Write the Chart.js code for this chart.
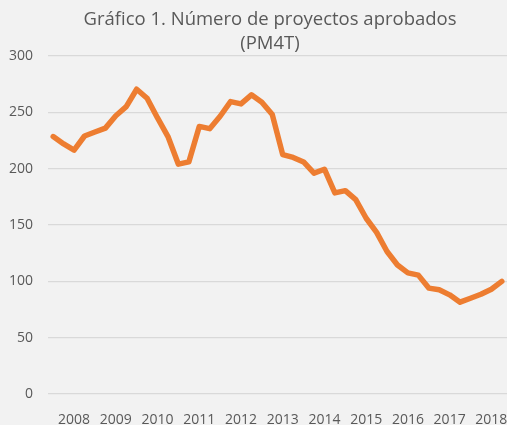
<!DOCTYPE html>
<html>
<head>
<meta charset="utf-8">
<script src="https://cdn.jsdelivr.net/npm/chart.js@4.4.1/dist/chart.umd.min.js"></script>
<style>
  html, body { margin: 0; padding: 0; background: #f2f2f2; overflow: hidden; }
  #wrap { width: 540px; height: 425px; }
</style>
</head>
<body>
<div id="wrap"><canvas id="myChart" width="540" height="425"></canvas></div>
<script>
// trimestres (PM4T = promedio movil 4 trimestres), 2007-III a 2018-II
var anios = ['2007', '2008', '2009', '2010', '2011', '2012', '2013', '2014', '2015', '2016', '2017', '2018']
var trimestres = ['I', 'II', 'III', 'IV']

var periodos = []
for (var a = 0; a < anios.length; a++) {
    for (var t = 0; t < trimestres.length; t++) {
        periodos.push(anios[a] + '-' + trimestres[t])
    }
}
periodos = periodos.slice(2, 46)

var proyectos = [
    228.5, 222, 216.5, 229, 232.5, 236, 247, 255, 270.5, 262.5, 245,
    228.5, 204, 206, 237.5, 235.5, 246.5, 259.5, 257.5, 265.5, 259, 248,
    212.5, 210, 206, 196, 199.5, 178.5, 180.5, 172.5, 156, 143.5, 126.5,
    114.5, 107.5, 105.5, 94, 92.5, 88, 81.5, 85, 88.5, 93, 100
]

var ejeY = [0, 50, 100, 150, 200, 250, 300]

var titulo = ['Gráfico 1. Número de proyectos aprobados', '(PM4T)']

var gris = '#595959'
var fuente = '"Open Sans", "DejaVu Sans", sans-serif'

var ctx = document.getElementById('myChart').getContext('2d')

var chart = new Chart(ctx, {
    type: 'line',
    data: {
        labels: periodos,
        datasets: [{
            label: 'Proyectos aprobados',
            data: proyectos,
            borderColor: '#ed7d31',
            borderWidth: 5.5,
            borderJoinStyle: 'round',
            borderCapStyle: 'round',
            pointRadius: 0,
            pointHoverRadius: 0,
            tension: 0,
            fill: false
        }]
    },
    options: {
        responsive: false,
        animation: false,
        layout: { padding: 0 },
        plugins: {
            legend: { display: false },
            tooltip: { enabled: false },
            title: {
                display: true,
                text: titulo,
                color: gris,
                font: { family: fuente, size: 18.5, weight: 'normal', lineHeight: 24.5 / 18.5 },
                padding: { top: 7, bottom: 0 }
            }
        },
        scales: {
            x: {
                offset: true,
                grid: { display: false },
                border: { display: false },
                ticks: {
                    autoSkip: false,
                    maxRotation: 0,
                    minRotation: 0,
                    padding: 10,
                    color: gris,
                    font: { family: fuente, size: 14 },
                    callback: function (val, i) {
                        var p = periodos[i]
                        return p.slice(5) === 'I' ? p.slice(0, 4) : ''
                    }
                },
                afterFit: function (s) { s.height = 31 }
            },
            y: {
                min: ejeY[0],
                max: ejeY[ejeY.length - 1],
                afterBuildTicks: function (s) {
                    s.ticks = ejeY.map(function (v) { return { value: v } })
                },
                grid: { color: '#d9d9d9', lineWidth: 1.2, drawTicks: false },
                border: { display: false },
                ticks: {
                    padding: 15,
                    color: gris,
                    font: { family: fuente, size: 14 }
                },
                afterFit: function (s) { s.width = 48 }
            },
            derecha: {
                position: 'right',
                display: true,
                grid: { display: false },
                border: { display: false },
                ticks: { display: false },
                afterFit: function (s) { s.width = 33 }
            }
        }
    }
})
</script>
</body>
</html>
